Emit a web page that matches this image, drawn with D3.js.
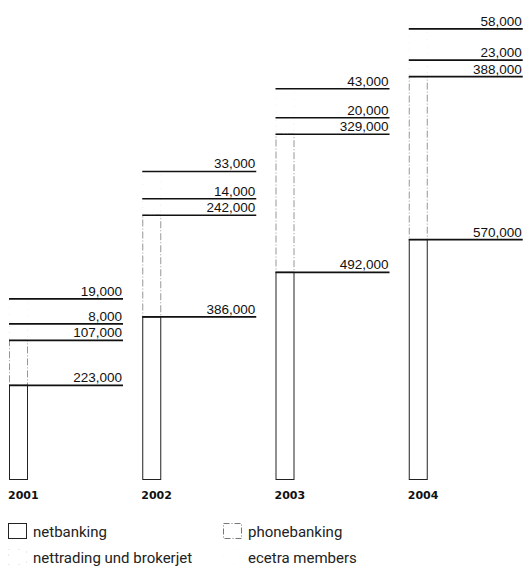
<!DOCTYPE html>
<html>
<head>
<meta charset="utf-8">
<script src="https://cdn.jsdelivr.net/npm/d3@7"></script>
<style>
  body { margin: 0; background: #fff; }
  svg { display: block; }
  .value { font-family: "Liberation Sans", Arial, sans-serif; font-size: 13.5px; fill: #111; }
  .year { font-family: "DejaVu Sans", sans-serif; font-weight: bold; font-size: 11px; fill: #111; }
  .legend text { font-family: Roboto, sans-serif; font-size: 15px; fill: #222; }
</style>
</head>
<body>
<svg width="525" height="569"></svg>
<script>
// Data (users per channel and year)
const years = ["2001", "2002", "2003", "2004"];
const netbanking = [223000, 386000, 492000, 570000];
const phonebanking = [107000, 242000, 329000, 388000];
const nettrading = [8000, 14000, 20000, 23000];
const ecetra = [19000, 33000, 43000, 58000];
const legendLabels = ["netbanking", "phonebanking", "nettrading und brokerjet", "ecetra members"];

const svg = d3.select("svg");
const fmt = d3.format(",");

const x = d3.scaleBand().domain(years).range([9, 542]);
const y = d3.scaleLinear().domain([0, 1000000]).range([479, 59]);
const barW = 18, lineLen = 114;
const len = v => y(0) - y(v);

// layout of each year: the two small channels get compressed label rows above the bars
const cols = years.map((yr, i) => {
  const netTop = y(netbanking[i]);
  const phoneTop = y(netbanking[i] + phonebanking[i]);
  const tradeTop = phoneTop - 16.5;
  const ecetraTop = tradeTop - (22 + len(ecetra[i]) * 0.38);
  return {
    year: yr, x0: x(yr),
    rows: [
      {v: netbanking[i], y: netTop},
      {v: phonebanking[i], y: phoneTop},
      {v: nettrading[i], y: tradeTop},
      {v: ecetra[i], y: ecetraTop}
    ],
    netTop, phoneTop, tradeTop, ecetraTop
  };
});

const g = svg.selectAll("g.col").data(cols).enter().append("g").attr("class", "col");

// faint outlines of the two small channels
g.append("rect")
  .attr("x", d => d.x0 + 0.5).attr("y", d => d.ecetraTop)
  .attr("width", barW).attr("height", d => d.tradeTop - d.ecetraTop)
  .attr("fill", "none").attr("stroke", "#f0f0f0").attr("stroke-dasharray", "1,6");
g.append("rect")
  .attr("x", d => d.x0 + 0.5).attr("y", d => d.tradeTop)
  .attr("width", barW).attr("height", d => d.phoneTop - d.tradeTop)
  .attr("fill", "none").attr("stroke", "#e6e6e6").attr("stroke-dasharray", "1,5");

// phonebanking: dashed grey outline
g.append("rect")
  .attr("x", d => d.x0 + 0.5).attr("y", d => d.phoneTop)
  .attr("width", barW).attr("height", d => d.netTop - d.phoneTop)
  .attr("fill", "none").attr("stroke", "#8a8a8a").attr("stroke-width", 0.9)
  .attr("stroke-dasharray", "7,2,1,2");

// netbanking: solid outline
g.append("rect")
  .attr("x", d => d.x0 + 0.5).attr("y", d => d.netTop)
  .attr("width", barW).attr("height", d => y(0) - d.netTop + 0.5)
  .attr("fill", "none").attr("stroke", "#222").attr("stroke-width", 1);

// label lines and values
const rows = g.selectAll("g.row").data(d => d.rows.map(r => ({...r, x0: d.x0}))).enter()
  .append("g").attr("class", "row");
rows.append("line")
  .attr("x1", d => d.x0).attr("x2", d => d.x0 + lineLen)
  .attr("y1", d => d.y).attr("y2", d => d.y)
  .attr("stroke", "#111").attr("stroke-width", 1.6);
rows.append("text").attr("class", "value")
  .attr("x", d => d.x0 + lineLen - 1).attr("y", d => d.y - 3)
  .attr("text-anchor", "end")
  .text(d => fmt(d.v));

// year labels
g.append("text").attr("class", "year")
  .attr("x", d => d.x0 - 1).attr("y", 499)
  .text(d => d.year);

// legend
const lg = svg.append("g").attr("class", "legend");
const swatch = [
  {stroke: "#222", dash: null},
  {stroke: "#777", dash: "6,2,1,2"},
  {stroke: "#d4d4d4", dash: "1,9"},
  {stroke: "#f4f4f4", dash: "1,9"}
];
const items = lg.selectAll("g").data(legendLabels).enter().append("g")
  .attr("transform", (d, i) => `translate(${i % 2 ? 223 : 8},${i < 2 ? 523 : 549})`);
items.append("rect")
  .attr("x", 0.5).attr("y", 0.5).attr("width", 18).attr("height", 15)
  .attr("fill", "none")
  .attr("stroke", (d, i) => swatch[i].stroke)
  .attr("stroke-width", 1)
  .attr("stroke-dasharray", (d, i) => swatch[i].dash);
items.append("text")
  .attr("x", 25).attr("y", 14)
  .text(d => d);
</script>
</body>
</html>
